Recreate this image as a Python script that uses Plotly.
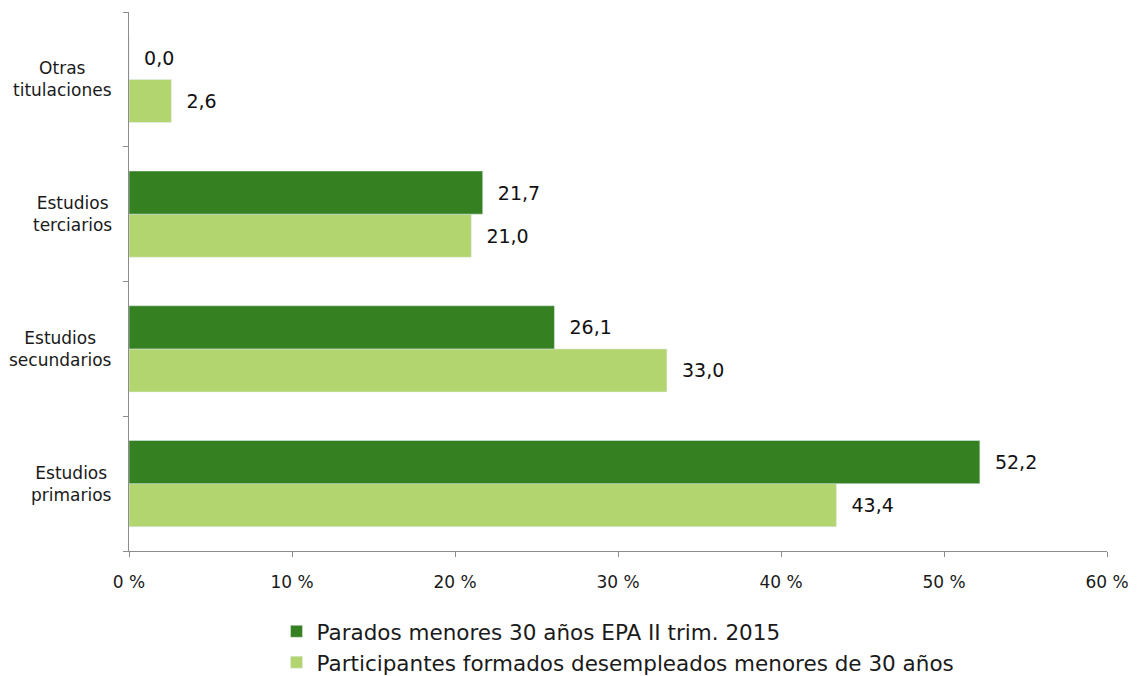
import plotly.graph_objects as go

# categorías (de abajo hacia arriba)
categorias = ["primarios", "secundarios", "terciarios", "otras"]
etiquetas = ["Estudios<br>primarios", "Estudios<br>secundarios",
             "Estudios<br>terciarios", "Otras<br>titulaciones"]

parados = [52.2, 26.1, 21.7, 0.0]
participantes = [43.4, 33.0, 21.0, 2.6]

nombre_parados = "Parados menores 30 años EPA II trim. 2015"
nombre_participantes = "Participantes formados desempleados menores de 30 años"

FUENTE = "DejaVu Sans"
GRIS = "#8c8c8c"

fig = go.Figure()

# la serie clara va primero para que quede debajo dentro de cada grupo
fig.add_trace(go.Bar(
    y=categorias, x=participantes, orientation="h",
    name=nombre_participantes, marker_color="#b3d56f",
    texttemplate="\u00a0\u00a0%{x:.1f}", textposition="outside",
    textfont=dict(size=19, color="#111111"), cliponaxis=False,
))
fig.add_trace(go.Bar(
    y=categorias, x=parados, orientation="h",
    name=nombre_parados, marker_color="#358020",
    texttemplate="\u00a0\u00a0%{x:.1f}", textposition="outside",
    textfont=dict(size=19, color="#111111"), cliponaxis=False,
))

# etiquetas de categoría: bloque alineado a la derecha, líneas centradas
for cat, lab in zip(categorias, etiquetas):
    fig.add_annotation(
        x=-0.015, xref="paper", y=cat, yref="y", text=lab,
        showarrow=False, align="center", xanchor="right",
        font=dict(size=17, color="#1a1a1a", family=FUENTE),
    )

# la página añade 8 px de margen al cuerpo: se descuentan aquí
fig.update_layout(
    width=1129, height=668,
    margin=dict(l=121, r=30, t=4, b=125, autoexpand=False),
    barmode="group", bargap=0.36, bargroupgap=0,
    separators=", ",
    plot_bgcolor="white", paper_bgcolor="white",
    font=dict(family=FUENTE, color="#1a1a1a", size=16),
    showlegend=True,
    legend=dict(
        orientation="v", traceorder="reversed",
        x=0.5, xanchor="center", y=-0.111, yanchor="top",
        font=dict(size=21.5), tracegroupgap=0,
    ),
    xaxis=dict(
        range=[0, 60], dtick=10, ticksuffix=" %",
        showgrid=False, zeroline=False,
        showline=True, linecolor=GRIS, linewidth=1,
        ticks="outside", ticklen=5, tickcolor=GRIS,
        ticklabelstandoff=11,
        tickfont=dict(size=17),
    ),
    yaxis=dict(
        categoryorder="array", categoryarray=categorias,
        showticklabels=False, showgrid=False, zeroline=False,
        showline=True, linecolor=GRIS, linewidth=1,
        ticks="outside", ticklen=5, tickcolor=GRIS,
        tickson="boundaries",
    ),
)

fig.write_html("out.html")
